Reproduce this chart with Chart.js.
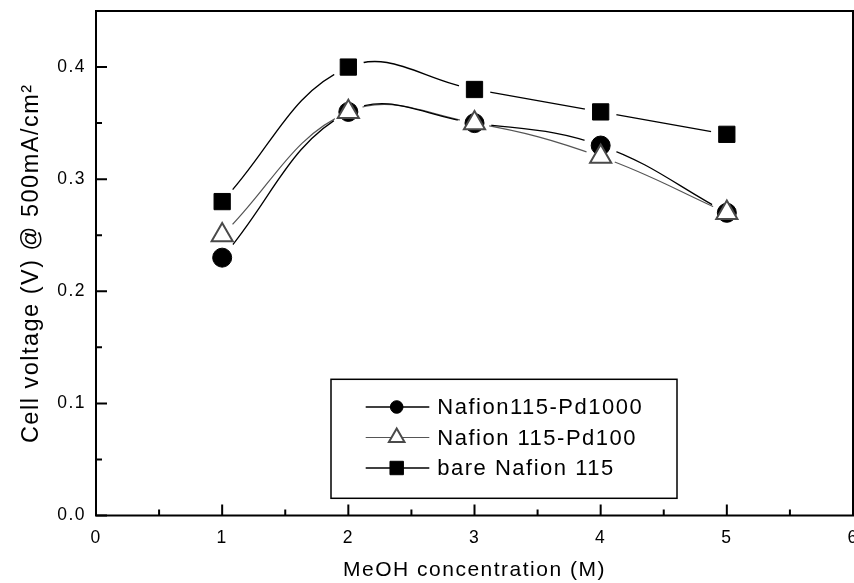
<!DOCTYPE html>
<html>
<head>
<meta charset="utf-8">
<script src="https://cdn.jsdelivr.net/npm/chart.js@4/dist/chart.umd.min.js"></script>
<style>
  html, body { margin: 0; padding: 0; background: #fff; }
  canvas { display: block; }
</style>
</head>
<body>
<canvas id="c" width="854" height="583"></canvas>
<script>
// MeOH concentration (M)
const concentrations = [1, 2, 3, 4, 5];
// Cell voltage (V) at 500 mA/cm2
const pd1000Voltage = [0.23, 0.36, 0.35, 0.33, 0.27];
const pd100Voltage  = [0.25, 0.36, 0.35, 0.32, 0.27];
const bareVoltage   = [0.28, 0.40, 0.38, 0.36, 0.34];
const seriesNames = ['Nafion115-Pd1000', 'Nafion 115-Pd100', 'bare Nafion 115'];

// axis ticks
const xMajorTicks = [0, 1, 2, 3, 4, 5, 6];
const xMinorTicks = [0.5, 1.5, 2.5, 3.5, 4.5, 5.5];
const yMajorTicks = [0, 0.1, 0.2, 0.3, 0.4];
const yMinorTicks = [0.05, 0.15, 0.25, 0.35];

const FONT = "'Liberation Sans', Arial, Helvetica, sans-serif";

const toPoints = ys => concentrations.map((x, i) => ({ x, y: ys[i] }));

// marker styles, shared by plot and legend
const markerStyles = [
  { pointStyle: 'circle',   radius: 9.5,  legendRadius: 6.3, fill: '#000', stroke: '#000', borderWidth: 1 },
  { pointStyle: 'triangle', radius: 12.2, legendRadius: 9,   fill: '#fff', stroke: '#4a4a4a', borderWidth: 2 },
  { pointStyle: 'rect',     radius: 11.5, legendRadius: 9.5, fill: '#000', stroke: '#000', borderWidth: 1 }
];
const lineStyles = [
  { color: '#000', width: 1.3, gap: 17 },
  { color: '#555', width: 1.2, gap: 15 },
  { color: '#000', width: 1.3, gap: 16 }
];
const seriesValues = [pd1000Voltage, pd100Voltage, bareVoltage];

function markerSet(i) {
  const m = markerStyles[i];
  return {
    label: seriesNames[i],
    data: toPoints(seriesValues[i]),
    showLine: false,
    pointStyle: m.pointStyle,
    pointRadius: m.radius,
    pointBackgroundColor: m.fill,
    pointBorderColor: m.stroke,
    pointBorderWidth: m.borderWidth
  };
}
function lineSet(i) {
  const l = lineStyles[i];
  return {
    label: seriesNames[i] + ' curve',
    data: toPoints(seriesValues[i]),
    showLine: true,
    borderColor: l.color,
    borderWidth: l.width,
    pointRadius: 0,
    tension: 0.4,
    fill: false,
    gapRadius: l.gap
  };
}

// leaves a small gap in each curve around its data markers
const curveGapPlugin = {
  id: 'curveGap',
  beforeDatasetDraw(chart, args) {
    const ds = chart.data.datasets[args.index];
    if (!ds.gapRadius) return;
    const ctx = chart.ctx;
    ctx.save();
    ctx.beginPath();
    ctx.rect(0, 0, chart.width, chart.height);
    args.meta.data.forEach(p => {
      ctx.moveTo(p.x + ds.gapRadius, p.y);
      ctx.arc(p.x, p.y, ds.gapRadius, 0, Math.PI * 2, true);
    });
    ctx.clip('evenodd');
  },
  afterDatasetDraw(chart, args) {
    const ds = chart.data.datasets[args.index];
    if (!ds.gapRadius) return;
    chart.ctx.restore();
  }
};

// text spacing for all canvas text
const textSpacingPlugin = {
  id: 'textSpacing',
  beforeDraw(chart) { chart.ctx.letterSpacing = '1.5px'; }
};

// box frame with inward major / minor ticks
const framePlugin = {
  id: 'frame',
  afterDatasetsDraw(chart) {
    const { ctx, chartArea: a, scales: { x, y } } = chart;
    ctx.save();
    ctx.strokeStyle = '#000';
    ctx.lineWidth = 2;
    ctx.strokeRect(a.left, a.top, a.right - a.left, a.bottom - a.top);
    ctx.beginPath();
    const xt = (v, len) => { const px = x.getPixelForValue(v); ctx.moveTo(px, a.bottom); ctx.lineTo(px, a.bottom - len); };
    const yt = (v, len) => { const py = y.getPixelForValue(v); ctx.moveTo(a.left, py); ctx.lineTo(a.left + len, py); };
    xMajorTicks.forEach(v => xt(v, 11));
    xMinorTicks.forEach(v => xt(v, 6));
    yMajorTicks.forEach(v => yt(v, 11));
    yMinorTicks.forEach(v => yt(v, 6));
    ctx.stroke();
    ctx.restore();
  }
};

// boxed legend with line-marker-line samples
const boxLegendPlugin = {
  id: 'boxLegend',
  afterDraw(chart) {
    const { ctx, chartArea: a } = chart;
    const left = a.left + 235, top = a.top + 368.3, w = 346, h = 119;
    ctx.save();
    ctx.letterSpacing = '1.5px';
    ctx.fillStyle = '#fff';
    ctx.fillRect(left, top, w, h);
    ctx.strokeStyle = '#000';
    ctx.lineWidth = 1.5;
    ctx.strokeRect(left, top, w, h);
    const rows = [28.7, 59.2, 89.7];
    seriesNames.forEach((name, i) => {
      const cy = top + rows[i];
      const l = lineStyles[i], m = markerStyles[i];
      ctx.beginPath();
      ctx.strokeStyle = l.color;
      ctx.lineWidth = l.width;
      ctx.moveTo(left + 34.7, cy - 1);
      ctx.lineTo(left + 98.3, cy - 1);
      ctx.stroke();
      ctx.fillStyle = m.fill;
      ctx.strokeStyle = m.stroke;
      ctx.lineWidth = m.borderWidth;
      Chart.helpers.drawPoint(ctx, {
        pointStyle: m.pointStyle, radius: m.legendRadius, rotation: 0, borderWidth: m.borderWidth
      }, left + 65.7, cy - 1);
      ctx.fillStyle = '#000';
      ctx.font = '22px ' + FONT;
      ctx.textAlign = 'left';
      ctx.textBaseline = 'middle';
      ctx.fillText(name, left + 106.3, cy);
    });
    ctx.restore();
  }
};

new Chart(document.getElementById('c'), {
  type: 'line',
  data: {
    // markers first so they are painted above the curves; triangles on top
    datasets: [markerSet(1), markerSet(0), markerSet(2), lineSet(0), lineSet(1), lineSet(2)]
  },
  options: {
    animation: false,
    responsive: false,
    devicePixelRatio: 1,
    events: [],
    layout: { autoPadding: false, padding: { top: 11, right: 1, left: 0, bottom: 0 } },
    plugins: { legend: { display: false }, tooltip: { enabled: false } },
    scales: {
      x: {
        type: 'linear',
        min: 0, max: 6,
        grid: { display: false, drawTicks: false },
        border: { display: false },
        ticks: {
          stepSize: 1, padding: 12, color: '#000', maxRotation: 0, autoSkip: false,
          font: { family: FONT, size: 17.5 }
        },
        title: {
          display: true, text: 'MeOH concentration (M)', color: '#000',
          font: { family: FONT, size: 21 }, padding: { top: 0, bottom: 0.5 }
        },
        afterFit(s) { s.height = 67.5; s.paddingLeft = 0; s.paddingRight = 0; }
      },
      y: {
        type: 'linear',
        min: 0, max: 0.45,
        grid: { display: false, drawTicks: false },
        border: { display: false },
        ticks: {
          stepSize: 0.1, includeBounds: false, padding: 10, color: '#000',
          font: { family: FONT, size: 17.5 },
          callback: v => v.toFixed(1)
        },
        title: {
          display: true, text: 'Cell voltage (V) @ 500mA/cm²', color: '#000',
          font: { family: FONT, size: 23.5 }, padding: { top: 17.5, bottom: 0 }
        },
        afterFit(s) { s.width = 96; s.paddingTop = 0; s.paddingBottom = 0; }
      }
    }
  },
  plugins: [textSpacingPlugin, curveGapPlugin, framePlugin, boxLegendPlugin]
});
</script>
</body>
</html>
